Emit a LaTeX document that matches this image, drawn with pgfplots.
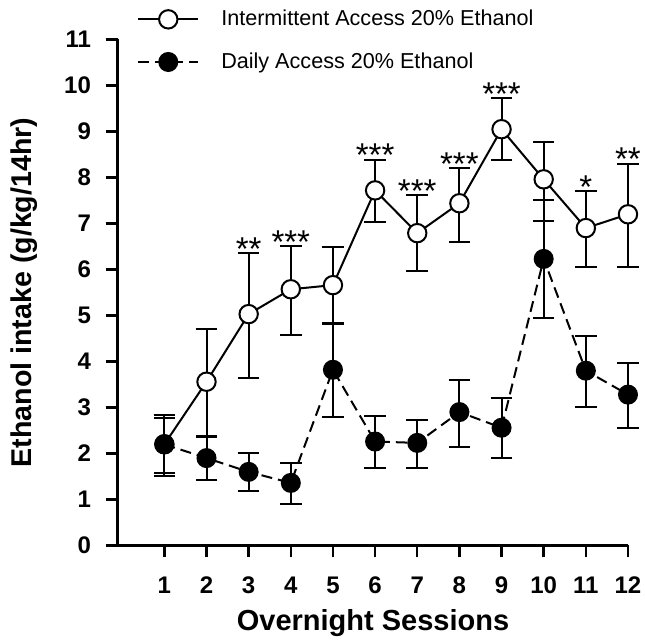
\documentclass[border=0pt]{standalone}
\usepackage{pgfplots}
\pgfplotsset{compat=1.18}
\usepackage{fontspec}
\setmainfont{Liberation Sans}
\begin{document}
\begin{tikzpicture}
\begin{axis}[
  name=main,
  scale only axis,
  width=255pt, height=253pt,
  xmin=-0.1, xmax=12, ymin=0, ymax=11,
  clip=false,
  xtick={1,...,12}, ytick={0,...,11},
  axis lines=left,
  axis line style={-, line width=1.5pt},
  tick align=outside,
  major tick length=6pt,
  tick style={line width=1.2pt, black},
  /pgf/number format/assume math mode=true,
  ticklabel style={font=\fontsize{12}{12}\selectfont\bfseries},
  xticklabel style={yshift=-6pt},
  yticklabel style={xshift=-4pt},
  xlabel={Overnight Sessions},
  ylabel={Ethanol intake (g/kg/14hr)},
  xlabel style={font=\fontsize{14.5}{15}\selectfont\bfseries, yshift=-1pt},
  ylabel style={font=\fontsize{14.3}{15}\selectfont\bfseries, at={(axis description cs:-0.184,0.5)}, anchor=center, rotate=0},
  legend style={draw=none, fill=none, at={(axis description cs:0.037,1.063)}, anchor=north west,
    font=\fontsize{10.8}{11}\selectfont, row sep=10pt, inner sep=0pt,
    nodes={inner sep=1pt},
    /tikz/every odd column/.append style={column sep=10pt}},
  legend cell align=left,
  legend image code/.code={\draw[mark repeat=2,mark phase=2,#1] plot coordinates {(0pt,0pt)(15pt,0pt)(30pt,0pt)};},
]
\addplot[black, line width=1pt, mark=*, mark size=4.6pt,
  mark options={fill=white, solid, line width=1pt},
  error bars/.cd, y dir=both, y explicit,
  error bar style={line width=1pt, solid},
  error mark options={rotate=90, mark size=5.4pt, line width=1pt}]
  table[x=x, y=y, y error plus=ep, y error minus=em] {
x y ep em
1 2.20 0.64 0.70
2 3.56 1.14 1.19
3 5.03 1.32 1.39
4 5.57 0.93 1.00
5 5.66 0.82 0.82
6 7.72 0.67 0.69
7 6.79 0.82 0.82
8 7.44 0.76 0.85
9 9.05 0.67 0.68
10 7.96 0.82 0.91
11 6.90 0.80 0.85
12 7.20 1.10 1.15
};
\addlegendentry{Intermittent Access 20\% Ethanol}
\addplot[black, line width=1pt, dash pattern=on 5.5pt off 3pt, mark=*, mark size=4.5pt,
  mark options={fill=black, solid},
  error bars/.cd, y dir=both, y explicit,
  error bar style={line width=1pt, solid},
  error mark options={rotate=90, mark size=5.4pt, line width=1pt}]
  table[x=x, y=y, y error plus=ep, y error minus=em] {
x y ep em
1 2.20 0.58 0.62
2 1.90 0.45 0.47
3 1.60 0.41 0.42
4 1.36 0.44 0.45
5 3.82 0.99 1.02
6 2.26 0.56 0.57
7 2.23 0.50 0.54
8 2.90 0.70 0.75
9 2.56 0.65 0.65
10 6.23 1.27 1.28
11 3.80 0.76 0.80
12 3.28 0.69 0.72
};
\addlegendentry{Daily Access 20\% Ethanol}
\addplot[draw=none, mark=none, forget plot, nodes near coords,
  point meta=explicit symbolic,
  nodes near coords style={anchor=base, yshift=-3.5pt, inner sep=0pt, font=\fontsize{16.5}{16}\selectfont}]
  table[x=x, y=y, meta=lab] {
x y lab
3 6.35 **
4 6.50 ***
6 8.39 ***
7 7.61 ***
8 8.20 ***
9 9.72 ***
11 7.70 *
12 8.30 **
};
\end{axis}
\draw[line width=1.5pt] ([xshift=0.75pt]main.south west) -- ++(-6.75pt,0);
\pgfresetboundingbox
\path (main.south west) ++(-59pt,-47.75pt) rectangle ++(322.5pt,320.5pt);
\end{tikzpicture}
\end{document}
